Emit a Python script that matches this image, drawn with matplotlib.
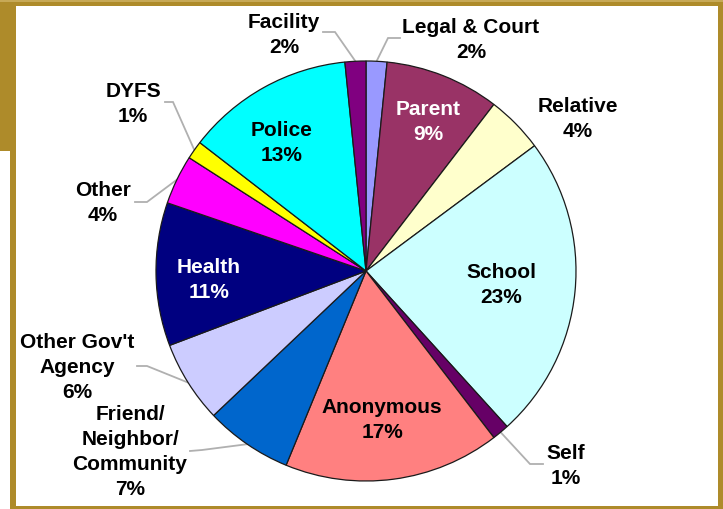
import matplotlib
matplotlib.use("Agg")
import matplotlib.pyplot as plt
from matplotlib.patches import Rectangle
import numpy as np

# ---- data ----
categories = ["Legal & Court", "Parent", "Relative", "School", "Self", "Anonymous",
              "Friend/\nNeighbor/\nCommunity", "Other Gov't\nAgency", "Health", "Other",
              "DYFS", "Police", "Facility"]
values = [1.6, 8.8, 4.4, 23.4, 1.3, 16.6, 6.7, 6.3, 11.0, 3.8, 1.4, 12.9, 1.6]
pct_labels = ["2%", "9%", "4%", "23%", "1%", "17%", "7%", "6%", "11%", "4%", "1%", "13%", "2%"]
colors = ["#9999FF", "#993366", "#FFFFCC", "#CCFFFF", "#660066", "#FF8080",
          "#0066CC", "#CCCCFF", "#000080", "#FF00FF", "#FFFF00", "#00FFFF", "#800080"]

# ---- layout (pixel coordinates, y downward) ----
W, H = 723, 510
CX, CY, R = 366, 272, 210
GOLD = "#AE8B2A"

# label centres; leader path points (text end, elbow) or None
label_pos = {
    "Legal & Court": ((471, 40), [(400, 39), (388, 39)], "black"),
    "Parent": ((428, 122), None, "white"),
    "Relative": ((578, 119), None, "black"),
    "School": ((501, 285), None, "black"),
    "Self": ((566, 466), [(543, 465), (530, 465)], "black"),
    "Anonymous": ((382, 420), None, "black"),
    "Friend/\nNeighbor/\nCommunity": ((130, 452), [(190, 452), (202, 451)], "black"),
    "Other Gov't\nAgency": ((77, 368), [(137, 367), (147, 367)], "black"),
    "Health": ((209, 280), None, "white"),
    "Other": ((103, 203), [(135, 203), (147, 203)], "black"),
    "DYFS": ((133, 104), [(165, 103), (173, 103)], "black"),
    "Police": ((282, 143), None, "black"),
    "Facility": ((284, 35), [(323, 33), (335, 33)], "black"),
}

plt.rcParams['font.family'] = ['Liberation Sans', 'DejaVu Sans']

fig = plt.figure(figsize=(W / 100, H / 100), dpi=100)
fig.patch.set_facecolor("white")
ax = fig.add_axes([0, 0, 1, 1])

# frame / background
bg = [
    (0, 0, W, 7, GOLD),
    (0, 0, 16, 152, GOLD),
    (10, 0, 6, 507, GOLD),
    (718, 0, 5, H, GOLD),
    (10, 507, W - 10, 3, GOLD),
]
for x, y, w, h, c in bg:
    ax.add_patch(Rectangle((x, y), w, h, facecolor=c, edgecolor="none", zorder=0))
ax.plot([0, W], [2, 2], color="#CDB060", lw=1.2, zorder=0.5)

wedges, _ = ax.pie(values, colors=colors, startangle=-90, counterclock=True,
                   center=(CX, CY), radius=R,
                   wedgeprops=dict(edgecolor="#1a1a1a", linewidth=0.9))
for wdg in wedges:
    wdg.set_zorder(2)

ax.set_xlim(0, W)
ax.set_ylim(H, 0)
ax.set_aspect("equal")
ax.axis("off")

for wdg, cat, pct in zip(wedges, categories, pct_labels):
    (tx, ty), path, col = label_pos[cat]
    ax.text(tx, ty, f"{cat}\n{pct}", ha="center", va="center", fontsize=15,
            fontweight="bold", color=col, linespacing=1.4, zorder=4)
    if path is not None:
        mid = np.deg2rad((wdg.theta1 + wdg.theta2) / 2)
        ax_ = CX + R * np.cos(mid)
        ay_ = CY + R * np.sin(mid)
        xs = [p[0] for p in path] + [ax_]
        ys = [p[1] for p in path] + [ay_]
        ax.plot(xs, ys, color="#B0B0B0", lw=1.3, zorder=1.5, solid_joinstyle="miter")

fig.savefig("out.png", dpi=100, facecolor="white")
